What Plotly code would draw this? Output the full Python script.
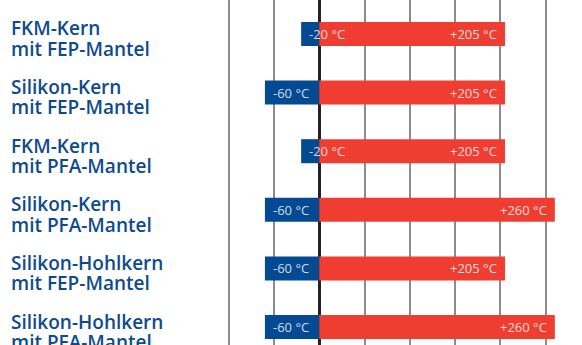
import plotly.graph_objects as go

labels = [
    "FKM-Kern<br>mit FEP-Mantel",
    "Silikon-Kern<br>mit FEP-Mantel",
    "FKM-Kern<br>mit PFA-Mantel",
    "Silikon-Kern<br>mit PFA-Mantel",
    "Silikon-Hohlkern<br>mit FEP-Mantel",
    "Silikon-Hohlkern<br>mit PFA-Mantel",
]
low = [-20, -60, -20, -60, -60, -60]
high = [205, 205, 205, 260, 205, 260]
grid_ticks = [-100, -50, 0, 50, 100, 150, 200, 250]
dark_line = 250

BLUE = "#034a92"
RED = "#ef3e31"
LABEL = "#0d4b8e"
TXT = "rgba(255,255,255,0.82)"

ys = list(range(len(labels)))

fig = go.Figure()
fig.add_bar(y=ys, x=low, base=0, orientation="h", width=0.41,
            marker=dict(color=BLUE, line=dict(width=0)), hoverinfo="skip")
fig.add_bar(y=ys, x=high, base=0, orientation="h", width=0.41,
            marker=dict(color=RED, line=dict(width=0)), hoverinfo="skip")

ann = []
for i, (lab, lo, hi) in enumerate(zip(labels, low, high)):
    lines = lab.split("<br>")
    for k, ln in enumerate(lines):
        ann.append(dict(x=0, xref="paper", y=i, yref="y", text=ln,
                        xanchor="left", yanchor="middle", xshift=9,
                        yshift=5.5 - 20.3 * k, showarrow=False,
                        font=dict(family="Open Sans", size=19, color=LABEL, weight=600)))
    ann.append(dict(x=lo, y=i, xref="x", yref="y", text=f"{lo} °C",
                    xanchor="left", yanchor="middle", xshift=6, showarrow=False,
                    font=dict(family="Open Sans", size=13, color=TXT)))
    ann.append(dict(x=hi, y=i, xref="x", yref="y", text=f"+{hi} °C",
                    xanchor="right", yanchor="middle", xshift=-6, showarrow=False,
                    font=dict(family="Open Sans", size=13, color=TXT)))

fig.update_layout(
    width=582, height=345,
    margin=dict(l=0, r=0, t=0, b=0),
    paper_bgcolor="white", plot_bgcolor="white",
    barmode="overlay", showlegend=False,
    annotations=ann,
    shapes=[dict(type="line", xref="x", yref="paper", x0=dark_line, x1=dark_line,
                 y0=0, y1=1, line=dict(color="#2a2a2a", width=1.5), layer="below")],
    xaxis=dict(range=[-352.4, 290], tickvals=grid_ticks, showticklabels=False,
               showgrid=True, gridcolor="#8c8c8c", gridwidth=1.5,
               zeroline=True, zerolinecolor="#222222", zerolinewidth=2.5,
               showline=False, fixedrange=True),
    yaxis=dict(range=[5.307, -0.58], showticklabels=False, showgrid=False,
               zeroline=False, showline=False, fixedrange=True),
)

fig.write_html("out.html")
